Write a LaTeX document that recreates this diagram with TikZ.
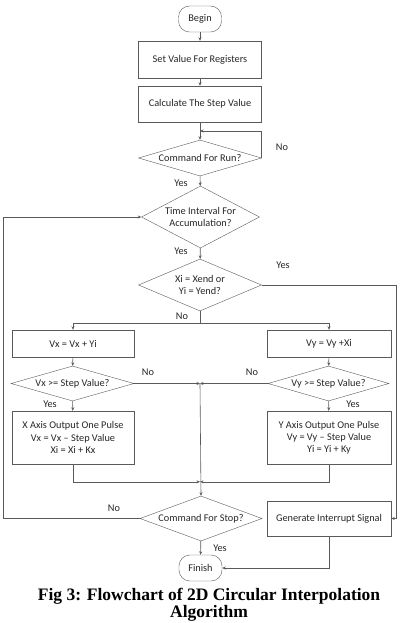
\documentclass[tikz,border=0pt]{standalone}
\usepackage{fontspec}
\setmainfont{Liberation Serif}
\newfontfamily\chartfont{Carlito}
\usetikzlibrary{shapes.geometric, arrows.meta, positioning, calc}

\definecolor{lineGray}{HTML}{5A5A5A}
\definecolor{textGray}{HTML}{262626}

\begin{document}
\begin{tikzpicture}[x=1pt, y=-1pt,
  term/.style={rectangle, rounded corners=11pt, draw=lineGray, font=\chartfont\fontsize{10.3}{12}\selectfont, text=textGray, minimum width=43pt, minimum height=26pt, inner sep=0pt},
  proc/.style={rectangle, draw=lineGray, font=\chartfont\fontsize{10.3}{12.2}\selectfont, text=textGray, align=center, minimum width=123pt, inner sep=0pt},
  dec/.style={diamond, draw=lineGray, font=\chartfont\fontsize{10.3}{11.8}\selectfont, text=textGray, align=center, inner sep=0pt, minimum width=123pt},
  arr/.style={draw=lineGray, line width=0.6pt, -{Stealth[length=3.5pt, width=3pt]}},
  ln/.style={draw=lineGray, line width=0.6pt},
  lbl/.style={font=\chartfont\fontsize{10.3}{12}\selectfont, text=textGray},
]
\useasboundingbox (0,0) rectangle (401,623);

\node[term] (begin)  at (200,19) {Begin};
\node[proc, minimum height=37pt] (setreg) at (200,59.5) {Set Value For Registers};
\node[proc, minimum height=36pt] (calc)   at (200,104) {Calculate The Step Value};
\node[dec, aspect=3.4, minimum height=36pt] (run) at (200,158) {Command For Run?};
\node[dec, aspect=1.9, minimum width=118pt, minimum height=62pt] (interval) at (200.5,217) {Time Interval For\\Accumulation?};
\node[dec, aspect=2.4, minimum height=52pt] (xiend) at (200,285) {Xi = Xend or\\Yi = Yend?};

\node[proc, minimum width=122pt, minimum height=27pt] (vxadd) at (73,343.5) {Vx = Vx + Yi};
\node[proc, minimum width=124pt, minimum height=27pt] (vyadd) at (329,343.5) {Vy = Vy +Xi};
\node[dec, aspect=3.5, minimum height=35pt] (vxcheck) at (72.5,383.5) {Vx >= Step Value?};
\node[dec, aspect=3.5, minimum width=121pt, minimum height=35pt] (vycheck) at (328.5,383.5) {Vy >= Step Value?};
\node[proc, minimum width=122pt, minimum height=53pt] (xout) at (73,437.5) {X Axis Output One Pulse\\Vx = Vx – Step Value\\Xi = Xi + Kx};
\node[proc, minimum width=124pt, minimum height=53pt] (yout) at (329,437.5) {Y Axis Output One Pulse\\Vy = Vy – Step Value\\Yi = Yi + Ky};

\node[dec, aspect=2.7, minimum width=122pt, minimum height=45pt] (stop) at (201,518.5) {Command For Stop?};
\node[proc, minimum width=124pt, minimum height=35pt] (irq) at (329,518.5) {Generate Interrupt Signal};
\node[term] (finish) at (200.5,568) {Finish};

\node[font=\bfseries\fontsize{17.5}{17}\selectfont, align=center] (cap) at (209,604.5) {Fig 3: Flowchart of 2D Circular Interpolation\\Algorithm};

% junctions
\coordinate (runloop) at ($(calc.south)!0.5!(run.north)$);
\coordinate (split) at ($(xiend.south)+(0,12)$);
\coordinate (mid) at (vxcheck.east -| split);
\coordinate (merge) at ($(stop.north -| split)+(0,-14)$);

\draw[arr] (begin) -- (setreg);
\draw[arr] (setreg) -- (calc);
\draw[arr] (calc) -- (run);
\draw[arr] (run.east) |- (runloop);
\draw[arr] (run) -- (interval);
\draw[arr] (interval) -- (xiend);
\draw[arr] (xiend.east) -| ([xshift=5pt]irq.east) -- (irq.east);
\draw[ln] (xiend.south) -- (split);
\draw[arr] (split) -| (vxadd.north);
\draw[arr] (split) -| (vyadd.north);
\draw[arr] (vxadd) -- (vxcheck);
\draw[arr] (vyadd) -- (vycheck);
\draw[arr] (vxcheck) -- (xout);
\draw[arr] (vycheck) -- (yout);
\draw[arr] (vxcheck.east) -- (mid);
\draw[arr] (vycheck.west) -- (mid);
\draw[arr] (xout.south) |- (merge);
\draw[arr] (yout.south) |- (merge);
\draw[arr] (mid) -- (stop.north);
\draw[arr] (stop.west) -| ([xshift=-9pt]vxadd.west) |- (interval.west);
\draw[arr] (stop) -- (finish);
\draw[arr] (irq.south) |- (finish.east);

% labels
\node[lbl] (lno1) at (282,147) {No};
\node[lbl] (lyes1) at (181,183) {Yes};
\node[lbl] (lyes2) at (181,251) {Yes};
\node[lbl] (lyes3) at (283,265) {Yes};
\node[lbl] (lno2) at (182,316) {No};
\node[lbl] (lno3) at (148,372) {No};
\node[lbl] (lno4) at (252,372) {No};
\node[lbl] (lyes4) at (50,404) {Yes};
\node[lbl] (lyes5) at (353,404) {Yes};
\node[lbl] (lno5) at (114,508) {No};
\node[lbl] (lyes6) at (220,548) {Yes};
\end{tikzpicture}
\end{document}
